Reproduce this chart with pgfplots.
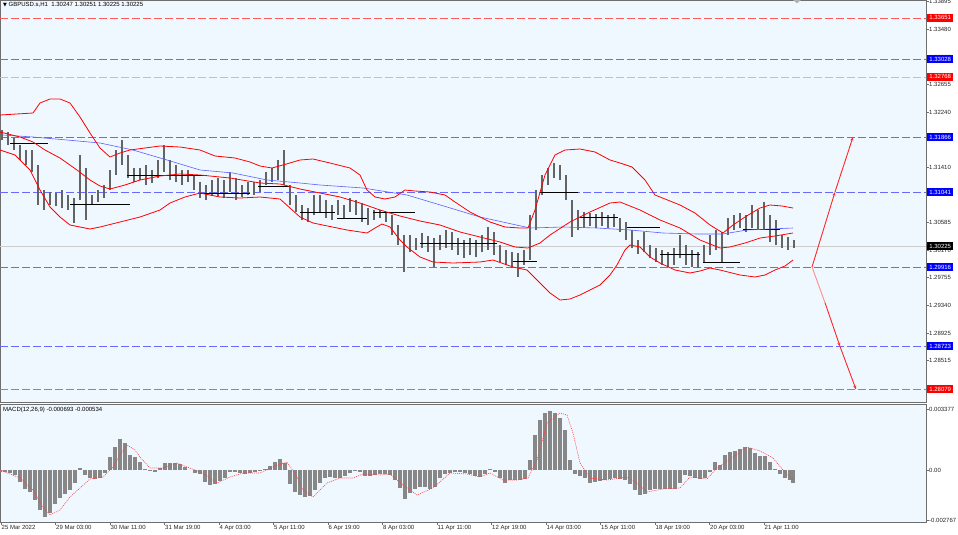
\documentclass[border=0pt]{standalone}
\usepackage{fontspec}
\setmainfont{Liberation Sans}
\newfontfamily\symfont{DejaVu Sans}
\usepackage{pgfplots}
\pgfplotsset{compat=1.18}
\usepackage{pgfplotstable}
\usetikzlibrary{arrows.meta}

\definecolor{chartbg}{RGB}{240,248,255}
\definecolor{framegray}{RGB}{110,110,110}
\definecolor{levred}{RGB}{255,90,90}
\definecolor{levpink}{RGB}{255,165,165}
\definecolor{levblue}{RGB}{105,105,255}
\definecolor{boxblue}{RGB}{0,0,255}
\definecolor{boxred}{RGB}{255,0,0}
\definecolor{candlegray}{RGB}{100,100,100}
\definecolor{histgray}{RGB}{135,135,135}
\definecolor{mablue}{RGB}{95,95,255}
\newcommand{\lab}{\fontsize{6}{7}\selectfont}

% price bars: x position, low, high
\pgfplotstableread{
x lo hi
2 1.31820 1.31970
8 1.31745 1.31940
14 1.31670 1.31850
20 1.31520 1.31745
26 1.31445 1.31670
32 1.31340 1.31670
38 1.30845 1.31445
44 1.30770 1.31070
50 1.30845 1.31040
56 1.30830 1.31025
62 1.30800 1.31070
68 1.30770 1.30995
74 1.30575 1.30950
80 1.30920 1.31595
86 1.30620 1.31400
92 1.30845 1.30995
98 1.30890 1.31070
104 1.30950 1.31145
110 1.31070 1.31370
116 1.31295 1.31670
122 1.31445 1.31820
128 1.31250 1.31595
134 1.31190 1.31400
140 1.31220 1.31400
146 1.31145 1.31445
152 1.31175 1.31370
158 1.31250 1.31520
164 1.31340 1.31745
170 1.31220 1.31520
176 1.31190 1.31445
182 1.31145 1.31370
188 1.31190 1.31370
194 1.31070 1.31295
200 1.30950 1.31190
206 1.30920 1.31145
212 1.30980 1.31220
218 1.30980 1.31250
224 1.30950 1.31220
230 1.31040 1.31340
236 1.30920 1.31250
242 1.30965 1.31145
248 1.30995 1.31190
254 1.30995 1.31190
260 1.31040 1.31220
266 1.31145 1.31340
272 1.31190 1.31400
278 1.31220 1.31520
284 1.31145 1.31670
290 1.30845 1.31145
296 1.30740 1.30995
302 1.30620 1.30845
308 1.30590 1.30800
314 1.30695 1.30995
320 1.30740 1.30995
326 1.30650 1.30920
332 1.30620 1.30845
338 1.30695 1.30920
344 1.30650 1.30845
350 1.30740 1.30950
356 1.30695 1.30920
362 1.30590 1.30875
368 1.30545 1.30800
374 1.30620 1.30770
380 1.30650 1.30770
386 1.30590 1.30740
392 1.30395 1.30695
398 1.30245 1.30545
404 1.29840 1.30395
410 1.30140 1.30395
416 1.30170 1.30350
422 1.30200 1.30425
428 1.30140 1.30380
434 1.29915 1.30350
440 1.30170 1.30395
446 1.30200 1.30470
452 1.30170 1.30440
458 1.30095 1.30350
464 1.30050 1.30320
470 1.30095 1.30350
476 1.30065 1.30320
482 1.30140 1.30395
488 1.30170 1.30515
494 1.30095 1.30440
500 1.29990 1.30245
506 1.29945 1.30170
512 1.29900 1.30140
518 1.29765 1.30125
524 1.29945 1.30170
530 1.30020 1.30695
536 1.30470 1.31070
542 1.30995 1.31295
548 1.31145 1.31400
554 1.31250 1.31475
560 1.31220 1.31445
566 1.30920 1.31295
572 1.30365 1.30920
578 1.30470 1.30770
584 1.30500 1.30740
590 1.30530 1.30725
596 1.30500 1.30710
602 1.30530 1.30740
608 1.30500 1.30695
614 1.30515 1.30710
620 1.30440 1.30650
626 1.30320 1.30590
632 1.30200 1.30470
638 1.30110 1.30320
644 1.30140 1.30440
650 1.30050 1.30245
656 1.29990 1.30200
662 1.29945 1.30170
668 1.29915 1.30140
674 1.29945 1.30200
680 1.30050 1.30395
686 1.29945 1.30245
692 1.29915 1.30170
698 1.29900 1.30140
704 1.29990 1.30245
710 1.30095 1.30395
716 1.30170 1.30470
722 1.29990 1.30440
728 1.30395 1.30650
734 1.30470 1.30695
740 1.30500 1.30725
746 1.30440 1.30695
752 1.30500 1.30845
758 1.30470 1.30770
764 1.30470 1.30890
770 1.30290 1.30695
776 1.30245 1.30620
782 1.30200 1.30395
788 1.30170 1.30365
794 1.30200 1.30320
}\candles

\pgfplotstableread{
x y
0 1.32195
33 1.32225
40 1.32375
50 1.32435
60 1.32435
70 1.32375
80 1.32165
90 1.31925
100 1.31700
110 1.31565
120 1.31625
130 1.31670
145 1.31700
160 1.31730
180 1.31715
200 1.31670
215 1.31580
235 1.31550
250 1.31490
260 1.31430
272 1.31400
283 1.31445
300 1.31520
313 1.31535
330 1.31475
350 1.31400
360 1.31295
367 1.31070
375 1.30965
385 1.30935
395 1.30965
405 1.31070
415 1.31055
430 1.31040
445 1.30995
455 1.30890
470 1.30740
490 1.30590
505 1.30515
520 1.30500
528 1.30500
535 1.30770
545 1.31295
555 1.31595
565 1.31670
580 1.31685
595 1.31640
610 1.31520
620 1.31475
632 1.31415
645 1.31220
655 1.30995
665 1.30935
680 1.30845
695 1.30725
710 1.30545
723 1.30425
733 1.30545
745 1.30665
760 1.30800
770 1.30845
782 1.30830
793 1.30800
}\bbupper

\pgfplotstableread{
x y
0 1.31940
20 1.31865
33 1.31790
45 1.31670
60 1.31550
77 1.31370
90 1.31220
100 1.31130
110 1.31085
125 1.31145
140 1.31220
160 1.31280
180 1.31310
200 1.31295
230 1.31250
260 1.31175
280 1.31160
300 1.31085
320 1.31025
340 1.30965
360 1.30875
380 1.30770
400 1.30680
420 1.30605
440 1.30545
460 1.30440
480 1.30365
500 1.30290
515 1.30215
528 1.30200
540 1.30275
550 1.30395
570 1.30590
590 1.30740
610 1.30875
620 1.30890
640 1.30770
660 1.30620
680 1.30500
700 1.30320
720 1.30200
730 1.30215
745 1.30275
760 1.30350
775 1.30380
793 1.30425
}\bbmid

\pgfplotstableread{
x y
0 1.31670
15 1.31595
30 1.31370
40 1.31070
50 1.30815
60 1.30665
70 1.30545
80 1.30515
90 1.30485
100 1.30515
120 1.30590
140 1.30665
160 1.30770
170 1.30875
185 1.30965
200 1.31025
220 1.30965
240 1.30950
260 1.30965
280 1.30935
290 1.30800
300 1.30665
313 1.30575
347 1.30470
367 1.30425
375 1.30500
382 1.30560
390 1.30515
400 1.30320
407 1.30215
420 1.30065
433 1.29990
453 1.29975
480 1.29990
493 1.30020
513 1.29915
527 1.29870
535 1.29750
540 1.29675
550 1.29525
560 1.29420
570 1.29435
580 1.29495
590 1.29570
600 1.29645
610 1.29795
617 1.29945
625 1.30170
630 1.30245
640 1.30215
650 1.30065
660 1.29975
675 1.29870
690 1.29825
700 1.29855
710 1.29900
720 1.29870
740 1.29795
755 1.29765
765 1.29795
775 1.29870
785 1.29930
793 1.30020
}\bblower

\pgfplotstableread{
x y
3 1.31895
33 1.31865
67 1.31820
100 1.31775
133 1.31670
167 1.31520
200 1.31370
233 1.31325
267 1.31220
300 1.31175
320 1.31145
363 1.31100
407 1.30995
447 1.30815
480 1.30665
530 1.30500
563 1.30515
597 1.30500
630 1.30470
663 1.30425
697 1.30410
723 1.30410
747 1.30470
793 1.30500
}\maline

% MACD histogram
\pgfplotstableread{
x v
0 -0.000111
5 -0.000111
10 -0.000166
15 -0.000277
20 -0.000664
25 -0.001052
30 -0.001218
35 -0.001661
40 -0.002214
45 -0.002602
50 -0.002380
55 -0.001882
60 -0.001550
65 -0.001329
70 -0.001107
75 -0.000720
80 0.000111
85 -0.000277
90 -0.000443
95 -0.000498
100 -0.000443
105 -0.000166
110 0.000720
115 0.001273
120 0.001716
125 0.001495
130 0.000830
135 0.000720
140 0.000443
145 0.000055
150 -0.000055
155 -0.000111
160 0.000111
165 0.000388
170 0.000388
175 0.000388
180 0.000332
185 0.000166
190 0.000000
195 -0.000166
200 -0.000221
205 -0.000664
210 -0.000830
215 -0.000775
220 -0.000609
225 -0.000443
230 -0.000111
235 -0.000111
240 -0.000166
245 -0.000221
250 -0.000166
255 -0.000111
260 -0.000055
265 0.000055
270 0.000221
275 0.000443
280 0.000609
285 0.000388
290 -0.000775
295 -0.001218
300 -0.001384
305 -0.001495
310 -0.001439
315 -0.001107
320 -0.000720
325 -0.000443
330 -0.000388
335 -0.000443
340 -0.000443
345 -0.000332
350 -0.000166
355 -0.000055
360 -0.000111
365 -0.000332
370 -0.000332
375 -0.000277
380 -0.000221
385 -0.000221
390 -0.000277
395 -0.000554
400 -0.000996
405 -0.001605
410 -0.001273
415 -0.001052
420 -0.000941
425 -0.000941
430 -0.001052
435 -0.000941
440 -0.000443
445 -0.000221
450 -0.000166
455 -0.000111
460 -0.000111
465 -0.000166
470 -0.000221
475 -0.000332
480 -0.000388
485 -0.000221
490 0.000055
495 -0.000111
500 -0.000443
505 -0.000720
510 -0.000554
515 -0.000554
520 -0.000554
525 -0.000498
530 0.000554
535 0.001938
540 0.002768
545 0.003156
550 0.003266
555 0.003156
560 0.002879
565 0.002214
570 0.000554
575 -0.000221
580 -0.000332
585 -0.000443
590 -0.000720
595 -0.000664
600 -0.000609
605 -0.000554
610 -0.000498
615 -0.000443
620 -0.000498
625 -0.000554
630 -0.000775
635 -0.001107
640 -0.001384
645 -0.001329
650 -0.001107
655 -0.001052
660 -0.001052
665 -0.001052
670 -0.001052
675 -0.001052
680 -0.000720
685 -0.000277
690 -0.000332
695 -0.000443
700 -0.000498
705 -0.000443
710 -0.000111
715 0.000443
720 0.000277
725 0.000830
730 0.000996
735 0.001052
740 0.001163
745 0.001273
750 0.001218
755 0.000941
760 0.000775
765 0.000775
770 0.000443
775 0.000055
780 -0.000221
785 -0.000443
790 -0.000554
793 -0.000720
}\macdhist

\pgfplotstableread{
x v
0 0.000000
20 -0.000443
33 -0.001107
43 -0.002048
50 -0.002491
60 -0.002214
70 -0.001495
80 -0.000996
90 -0.000498
103 -0.000388
113 0.000166
120 0.000830
127 0.001384
135 0.001107
140 0.000720
150 0.000111
163 0.000111
177 0.000388
187 0.000166
203 -0.000166
217 -0.000720
230 -0.000388
243 -0.000166
260 -0.000166
273 0.000166
287 0.000443
297 -0.000388
303 -0.001107
313 -0.001495
327 -0.000720
340 -0.000443
353 -0.000443
363 -0.000221
380 -0.000277
390 -0.000221
403 -0.000830
417 -0.001384
433 -0.000996
450 -0.000166
467 -0.000221
480 -0.000388
490 -0.000166
503 -0.000554
517 -0.000554
528 -0.000443
537 0.000554
547 0.002602
560 0.003156
567 0.003045
573 0.002048
580 0.000388
590 -0.000443
607 -0.000554
627 -0.000388
637 -0.000720
647 -0.001218
663 -0.001052
680 -0.000996
690 -0.000388
707 -0.000498
717 0.000111
733 0.000720
747 0.001273
760 0.001052
773 0.000664
783 0.000000
793 -0.000554
}\macdsignal

\pgfplotsset{
  mtpanel/.style={
    anchor=north west, width=926pt, scale only axis,
    xmin=0, xmax=926, clip=false,
    axis background/.style={fill=chartbg},
    axis line style={framegray, line width=0.8pt},
    tick align=outside, major tick length=2.5pt,
    tick style={framegray, line width=0.5pt},
    ytick pos=right, yticklabel pos=right,
    scaled y ticks=false, scaled x ticks=false,
    yticklabel style={font=\lab, text=black!85, anchor=west, inner sep=0.5pt},
    xticklabel style={font=\lab, text=black!85, anchor=north west, inner sep=0.5pt},
  },
  level/.style={#1, dash pattern=on 8pt off 3pt, line width=0.6pt, forget plot},
}
\tikzset{pricebox/.style={fill=#1, text=white, font=\lab, anchor=west,
    inner sep=0pt, minimum width=26pt, minimum height=8pt}}

\begin{document}
\begin{tikzpicture}
\fill[white] (0pt,0pt) rectangle (958pt,-535pt);

\begin{axis}[mtpanel, at={(0pt,0pt)}, height=402pt,
    ymin=1.27890, ymax=1.33920,
    xtick=\empty,
    ytick={1.33895,1.33480,1.33065,1.32655,1.32240,1.31410,1.30585,1.30170,1.29755,1.29340,1.28925,1.28515},
    yticklabels={1.33895,1.33480,1.33065,1.32655,1.32240,1.31410,1.30585,1.30170,1.29755,1.29340,1.28925,1.28515},
    unbounded coords=jump,
  ]
  % horizontal levels
  \addplot[level=levred] coordinates {(0,1.33651) (926,1.33651)};
  \addplot[level=levpink] coordinates {(0,1.32768) (926,1.32768)};
  \addplot[level=levred] coordinates {(0,1.28079) (926,1.28079)};
  \addplot[level=levblue] coordinates {(0,1.33028) (926,1.33028)};
  \addplot[level=levblue] coordinates {(0,1.31866) (926,1.31866)};
  \addplot[level=levblue] coordinates {(0,1.31041) (926,1.31041)};
  \addplot[level=levblue] coordinates {(0,1.29916) (926,1.29916)};
  \addplot[level=levblue] coordinates {(0,1.28723) (926,1.28723)};
  \addplot[black!20, line width=0.5pt] coordinates {(0,1.30225) (926,1.30225)};

  % bars
  \addplot[draw=none, mark=none, error bars/.cd, y dir=plus, y explicit,
    error mark=none, error bar style={line width=2.4pt, candlegray}]
    table[x=x, y=lo, y error expr=\thisrow{hi}-\thisrow{lo}] {\candles};

  % black level stubs
  \addplot[black, line width=0.8pt] coordinates {
    (10,1.31775) (48,1.31775) (48,nan)
    (70,1.30860) (130,1.30860) (130,nan)
    (127,1.31295) (207,1.31295) (207,nan)
    (200,1.31025) (250,1.31025) (250,nan)
    (258,1.31130) (290,1.31130) (290,nan)
    (300,1.30740) (335,1.30740) (335,nan)
    (337,1.30650) (367,1.30650) (367,nan)
    (373,1.30740) (415,1.30740) (415,nan)
    (420,1.30275) (497,1.30275) (497,nan)
    (513,1.30005) (537,1.30005) (537,nan)
    (540,1.31040) (578,1.31040) (578,nan)
    (580,1.30665) (618,1.30665) (618,nan)
    (627,1.30515) (660,1.30515) (660,nan)
    (660,1.30110) (700,1.30110) (700,nan)
    (703,1.29990) (740,1.29990) (740,nan)
    (743,1.30485) (780,1.30485)};

  % moving average and bands
  \addplot[mablue, line width=0.6pt] table[x=x, y=y] {\maline};
  \addplot[red, line width=0.8pt] table[x=x, y=y] {\bbupper};
  \addplot[red, line width=0.8pt] table[x=x, y=y] {\bbmid};
  \addplot[red, line width=0.8pt] table[x=x, y=y] {\bblower};

  % projection arrows
  \addplot[red!85, line width=0.9pt, -{Stealth[length=4pt,width=3pt]}] coordinates {(812,1.29916) (835,1.31041)};
  \addplot[red!85, line width=0.9pt, -{Stealth[length=4pt,width=3pt]}] coordinates {(835,1.31041) (853,1.31866)};
  \addplot[red!45, line width=0.9pt] coordinates {(812,1.29916) (825,1.29380)};
  \addplot[red!85, line width=0.9pt, -{Stealth[length=4pt,width=3pt]}] coordinates {(825,1.29380) (840,1.28723)};
  \addplot[red!85, line width=0.9pt, -{Stealth[length=4pt,width=3pt]}] coordinates {(840,1.28723) (856,1.28079)};

  % chart shift marker
  \fill[gray!60] (axis cs:793,1.33920) -- (axis cs:801,1.33920) -- (axis cs:797,1.33870) -- cycle;

  % price boxes on the scale
  \node[pricebox=boxred] at (axis cs:927,1.33651) {1.33651};
  \node[pricebox=boxblue] at (axis cs:927,1.33028) {1.33028};
  \node[pricebox=boxred] at (axis cs:927,1.32768) {1.32768};
  \node[pricebox=boxblue] at (axis cs:927,1.31866) {1.31866};
  \node[pricebox=boxblue] at (axis cs:927,1.31041) {1.31041};
  \node[pricebox=black] at (axis cs:927,1.30225) {1.30225};
  \node[pricebox=boxblue] at (axis cs:927,1.29916) {1.29916};
  \node[pricebox=boxblue] at (axis cs:927,1.28723) {1.28723};
  \node[pricebox=boxred] at (axis cs:927,1.28079) {1.28079};

  \node[anchor=north west, font=\lab, inner sep=0pt] at (rel axis cs:0,1) [xshift=3pt, yshift=-2pt]
    {{\symfont\fontsize{5}{6}\selectfont ▼}\ GBPUSD.s,H1\ \ 1.30247 1.30251 1.30225 1.30225};
\end{axis}

\begin{axis}[mtpanel, at={(0pt,-404pt)}, height=118pt,
    ymin=-0.002879, ymax=0.003654,
    ytick={0.003377,0,-0.002767},
    yticklabels={0.003377,0.00,-0.002767},
    xtick pos=bottom,
    xtick={1,55.5,110,164.5,219,273.5,328,382.5,437,491.5,546,600.5,655,709.5,764},
    xticklabels={25 Mar 2022,29 Mar 03:00,30 Mar 11:00,31 Mar 19:00,4 Apr 03:00,5 Apr 11:00,6 Apr 19:00,8 Apr 03:00,11 Apr 11:00,12 Apr 19:00,14 Apr 03:00,15 Apr 11:00,18 Apr 19:00,20 Apr 03:00,21 Apr 11:00},
  ]
  \addplot[ycomb, histgray, line width=3.9pt, mark=none] table[x=x, y=v] {\macdhist};
  \addplot[red!75, line width=0.6pt, dash pattern=on 1pt off 1pt, mark=none] table[x=x, y=v] {\macdsignal};
  \node[anchor=north west, font=\lab, inner sep=0pt] at (rel axis cs:0,1) [xshift=3pt, yshift=-3pt]
    {MACD(12,26,9) -0.000693 -0.000534};
\end{axis}

\pgfresetboundingbox
\path (0pt,0pt) rectangle (958pt,-535pt);
\end{tikzpicture}
\end{document}
